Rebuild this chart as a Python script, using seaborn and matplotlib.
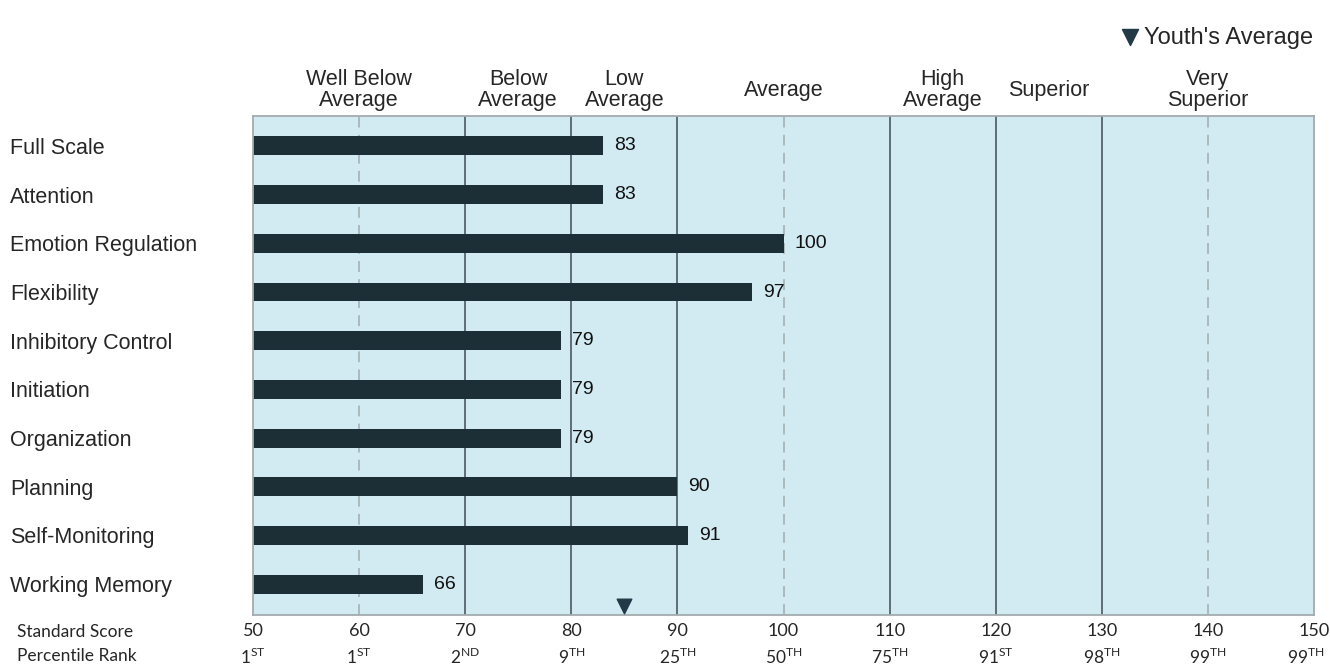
import pandas as pd
import matplotlib.pyplot as plt
import seaborn as sns

# scales and standard scores
scales = ["Full Scale", "Attention", "Emotion Regulation", "Flexibility",
          "Inhibitory Control", "Initiation", "Organization", "Planning",
          "Self-Monitoring", "Working Memory"]
scores = [83, 83, 100, 97, 79, 79, 79, 90, 91, 66]
youth_avg = 85

# x axis: standard score and percentile rank
std_ticks = [50, 60, 70, 80, 90, 100, 110, 120, 130, 140, 150]
pct_rank = [1, 1, 2, 9, 25, 50, 75, 91, 98, 99, 99]
pct_suffix = ["ST", "ST", "ND", "TH", "TH", "TH", "TH", "ST", "TH", "TH", "TH"]

# descriptive bands across the top
band_names = ["Well Below\nAverage", "Below\nAverage", "Low\nAverage", "Average",
              "High\nAverage", "Superior", "Very\nSuperior"]
band_edges = [50, 70, 80, 90, 110, 120, 130, 150]
solid_lines = [70, 80, 90, 110, 120, 130]
dashed_lines = [60, 100, 140]

BG = "#d2eaf2"
BAR = "#1c2f36"
LINE = "#56646a"

sns.set_style("white")
plt.rcParams["font.family"] = ["Liberation Sans", "DejaVu Sans"]
plt.rcParams["mathtext.fontset"] = "custom"
plt.rcParams["mathtext.rm"] = "Lato"

df = pd.DataFrame({"scale": scales, "score": scores})

fig = plt.figure(figsize=(13.3, 6.69), dpi=100)
ax = fig.add_axes([253 / 1330, 1 - 615 / 669, 1061 / 1330, 499 / 669])
ax.set_facecolor(BG)

for x in solid_lines:
    ax.axvline(x, color=LINE, lw=1.3, zorder=1)
for x in dashed_lines:
    ax.axvline(x, color="#a7b5ba", lw=1.3, dashes=(6, 4), zorder=1)

sns.barplot(data=df, x="score", y="scale", orient="h", color=BAR,
            width=0.39, saturation=1, linewidth=0, ax=ax, zorder=2)

for i, v in enumerate(scores):
    ax.annotate(str(v), (v, i), xytext=(8, 0), textcoords="offset points",
                va="center", ha="left", fontsize=14, color="#111111")

ax.set_xlim(50, 150)
ax.set_ylim(9.636, -0.616)

# x tick labels: standard score; percentile rank drawn on a second row
ax.set_xticks(std_ticks)
ax.set_xticklabels([str(s) for s in std_ticks], fontsize=13, family="Lato")
ax.tick_params(axis="x", length=0, pad=6)
xt = ax.get_xaxis_transform()
for k, (s, p, suf) in enumerate(zip(std_ticks, pct_rank, pct_suffix)):
    shift = -6 if k == len(std_ticks) - 1 else 0
    ax.annotate(f"{p}$^{{\\mathrm{{{suf}}}}}$", (s, 0), xycoords=xt,
                xytext=(shift, -23), textcoords="offset points",
                ha="center", va="top", fontsize=12.5, family="Lato")

ax.set_yticks(range(len(scales)))
ax.set_yticklabels(scales, fontsize=15.5)
for lab in ax.get_yticklabels():
    lab.set_horizontalalignment("left")
ax.tick_params(axis="y", length=0, pad=175)
ax.set_xlabel("")
ax.set_ylabel("")

for sp in ax.spines.values():
    sp.set_visible(True)
    sp.set_color("#a3abae")
    sp.set_linewidth(1.3)

# band names over the plot
for name, lo, hi in zip(band_names, band_edges[:-1], band_edges[1:]):
    ax.text((lo + hi) / 2, 1.052, name, transform=xt,
            ha="center", va="center", fontsize=15.5, linespacing=0.95)

# youth's average marker
ax.scatter([youth_avg], [0.018], marker="v", s=110, color="#223a48",
           transform=xt, clip_on=False, zorder=3, label="Youth's Average")
ax.legend(loc="upper right", bbox_to_anchor=(1.0, 0.985),
          bbox_transform=fig.transFigure, frameon=False, fontsize=17,
          handletextpad=0.1, borderaxespad=0.3, handlelength=1.0,
          markerscale=1.1)

fig.text(17 / 1330, 1 - 632 / 669, "Standard Score", family="Lato",
         fontsize=12.5, va="center", ha="left")
fig.text(17 / 1330, 1 - 656 / 669, "Percentile Rank", family="Lato",
         fontsize=12.5, va="center", ha="left")

fig.savefig("out.png", dpi=100)
